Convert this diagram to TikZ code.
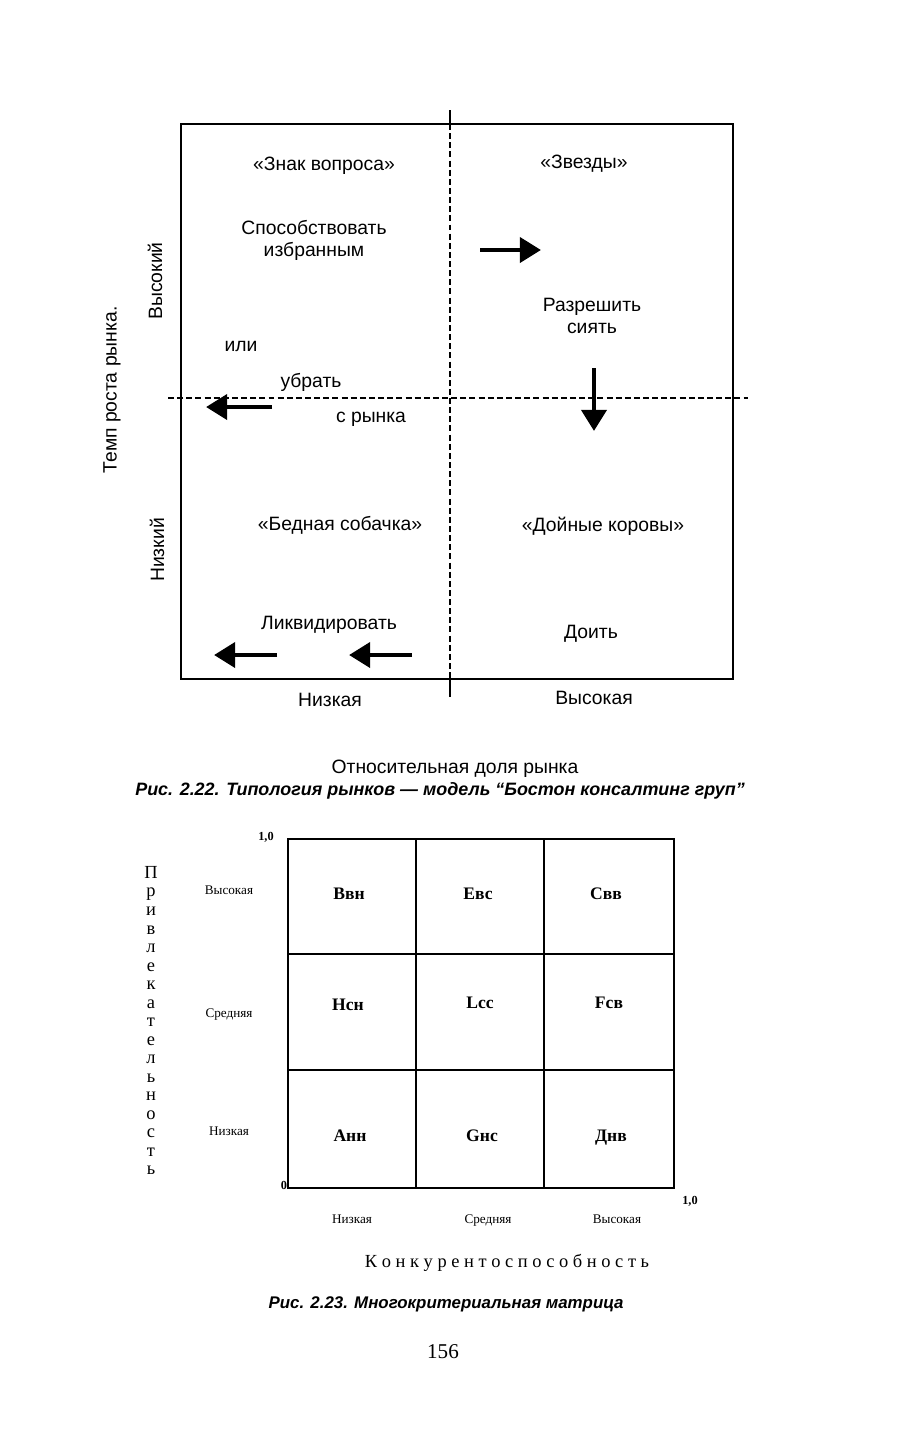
\documentclass[tikz,border=0pt]{standalone}
\usepackage{fontspec}
\setmainfont{Liberation Serif}
\setsansfont{Liberation Sans}
\usetikzlibrary{arrows.meta}

\begin{document}
\begin{tikzpicture}[x=0.02cm,y=-0.02cm,>=Latex,
  bcg/.style={font=\sffamily\fontsize{11}{12.5}\selectfont},
  fat/.style={line width=2.8pt,-{Triangle[length=12pt,width=14pt]}},
  divider/.style={line width=0.9pt,dash pattern=on 3.4pt off 1.8pt},
  cell/.style={font=\bfseries\fontsize{10}{11}\selectfont},
  tiny/.style={font=\fontsize{7.5}{8}\selectfont},
  capt/.style={font=\sffamily\bfseries\itshape\fontsize{#1}{12}\selectfont},
  capt/.default=10.2]
\useasboundingbox (0,0) rectangle (902,1444);
% Boston matrix
\draw[line width=1.1pt] (181,124) rectangle (733,679);
\coordinate (vtop) at (450,110);
\coordinate (vup) at (450,124);
\coordinate (vdown) at (450,679);
\coordinate (vbot) at (450,697);
\draw[line width=0.9pt] (vtop) -- (vup);
\draw[divider] (vup) -- (vdown);
\draw[line width=0.9pt] (vdown) -- (vbot);
\coordinate (hleft) at (168,398);
\coordinate (hright) at (748,398);
\draw[divider] (hleft) -- (hright);
\node[bcg] (qmark) at (324,166) {«Знак вопроса»};
\node[bcg] (stars) at (584,164) {«Звезды»};
\node[bcg,align=center] (promote) at (314,240) {Способствовать\\избранным};
\node[bcg,align=center] (shine) at (592,316) {Разрешить\\сиять};
\node[bcg] (orr) at (241,346) {или};
\node[bcg] (remove) at (311,382) {убрать};
\node[bcg] (market) at (371,419) {с рынка};
\node[bcg] (dog) at (340,525) {«Бедная собачка»};
\node[bcg] (cows) at (603,526) {«Дойные коровы»};
\node[bcg] (liquid) at (329,625) {Ликвидировать};
\node[bcg] (milk) at (591,634) {Доить};
\node[bcg] (lowshare) at (330,700) {Низкая};
\node[bcg] (highshare) at (594,698) {Высокая};
\node[bcg,rotate=90] (highgrow) at (155,281) {Высокий};
\node[bcg,rotate=90] (lowgrow) at (157,550) {Низкий};
\node[bcg,rotate=90] (growth) at (112,390) {Темп роста рынка.};
\node[bcg] (share) at (455,769) {Относительная доля рынка};
\node[capt] (cap22) at (440,791) {Рис. 2.22. Типология рынков — модель “Бостон консалтинг груп”};
% arrows
\coordinate (a1) at (480,250); \coordinate (b1) at (541,250);
\coordinate (a2) at (272,407); \coordinate (b2) at (206,407);
\coordinate (a3) at (594,368); \coordinate (b3) at (594,431);
\coordinate (a4) at (277,655); \coordinate (b4) at (214,655);
\coordinate (a5) at (412,655); \coordinate (b5) at (349,655);
\foreach \i in {1,...,5} {
  \draw[fat] (a\i) -- (b\i);
}
% multi-criteria matrix
\draw[line width=1pt] (288,839) rectangle (674,1188);
\foreach \x in {416,544} {
  \draw[line width=1pt] (\x,839) -- (\x,1188);
}
\foreach \y in {954,1070} {
  \draw[line width=1pt] (288,\y) -- (674,\y);
}
\foreach \x/\y/\lbl [count=\k] in {349/894/Ввн,478/894/Евс,606/894/Свв,
    348/1005/Нсн,480/1003/Lсс,609/1003/Fсв,
    350/1136/Анн,482/1136/Gнс,611/1138/Днв} {
  \node[cell] (cell\k) at (\x,\y) {\lbl};
}
\node[font=\bfseries\fontsize{7}{8}\selectfont] (ytop) at (266,837) {1,0};
\node[font=\bfseries\fontsize{7}{8}\selectfont] (orig) at (284,1185) {0};
\node[font=\bfseries\fontsize{7}{8}\selectfont] (xend) at (690,1201) {1,0};
\foreach \y/\lbl [count=\k] in {894/Высокая,1017/Средняя,1135/Низкая} {
  \node[tiny,anchor=base] (row\k) at (229,\y) {\lbl};
}
\foreach \x/\lbl [count=\k] in {352/Низкая,488/Средняя,617/Высокая} {
  \node[tiny,anchor=base] (col\k) at (\x,1223) {\lbl};
}
\node[font=\fontsize{10.5}{10.54}\selectfont,align=center,inner sep=0pt,anchor=north] (attract) at (151,866)
  {П\\р\\и\\в\\л\\е\\к\\а\\т\\е\\л\\ь\\н\\о\\с\\т\\ь};
\node[font=\fontsize{10.5}{12}\selectfont] (compet) at (507,1263) {К о н к у р е н т о с п о с о б н о с т ь};
\node[capt=9.6] (cap23) at (446,1304) {Рис. 2.23. Многокритериальная матрица};
\node[font=\fontsize{12}{14}\selectfont] (page) at (443,1352) {156};
\end{tikzpicture}
\end{document}
